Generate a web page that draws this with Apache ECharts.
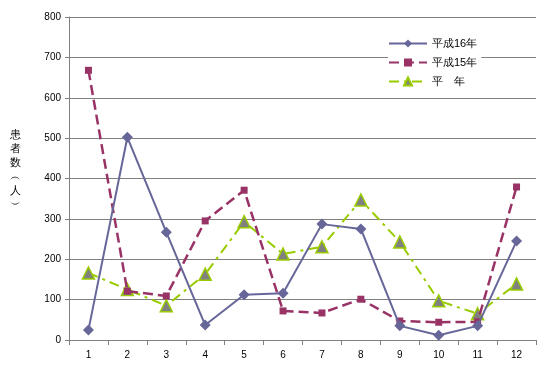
<!DOCTYPE html>
<html>
<head>
<meta charset="utf-8">
<script src="https://cdn.jsdelivr.net/npm/echarts@6/dist/echarts.min.js"></script>
<style>
  html, body { margin: 0; padding: 0; background: #ffffff; }
  #chart { width: 551px; height: 378px; }
</style>
</head>
<body>
<div id="chart"></div>
<script>
// months
const months = ['1', '2', '3', '4', '5', '6', '7', '8', '9', '10', '11', '12'];

// patients per month
const h16 = [25, 502, 267, 37, 112, 116, 287, 275, 35, 12, 35, 245];
const h15 = [668, 121, 109, 295, 371, 72, 67, 101, 47, 44, 45, 379];
const normalYear = [166, 125, 85, 163, 293, 213, 231, 347, 243, 97, 65, 139];

const seriesNames = ['平成16年', '平成15年', '平　年'];

const chart = echarts.init(document.getElementById('chart'));
const labelFont = 'sans-serif';

const option = {
  backgroundColor: '#ffffff',
  animation: false,
  grid: { left: 69, right: 15, top: 17, bottom: 38 },
  legend: {
    orient: 'vertical',
    left: 388,
    top: 38,
    itemWidth: 38,
    itemHeight: 10,
    itemGap: 8,
    backgroundColor: '#ffffff',
    padding: [0, 4, 0, 0],
    textStyle: { fontSize: 11, color: '#000', fontFamily: labelFont },
    data: seriesNames
  },
  xAxis: {
    type: 'category',
    data: months,
    boundaryGap: true,
    axisLine: { lineStyle: { color: '#808080', width: 1 } },
    axisTick: { show: true, alignWithLabel: false, length: 5, lineStyle: { color: '#808080' } },
    axisLabel: { fontSize: 10, color: '#000', margin: 10, fontFamily: labelFont },
    splitLine: { show: false }
  },
  yAxis: {
    type: 'value',
    min: 0,
    max: 800,
    interval: 100,
    axisLine: { show: true, lineStyle: { color: '#808080', width: 1 } },
    axisTick: { show: true, length: 4, lineStyle: { color: '#808080' } },
    axisLabel: { fontSize: 10, color: '#000', margin: 8, fontFamily: labelFont },
    splitLine: { show: true, lineStyle: { color: '#808080', width: 1 } }
  },
  graphic: [
    {
      type: 'text',
      left: 10,
      top: 128,
      style: {
        text: '患\n者\n数\n︵\n人\n︶',
        fontSize: 11,
        lineHeight: 14,
        fill: '#000',
        fontFamily: labelFont
      }
    }
  ],
  series: [
    {
      name: seriesNames[0],
      type: 'line',
      data: h16,
      symbol: 'diamond',
      symbolSize: 11,
      lineStyle: { color: '#666699', width: 2 },
      itemStyle: { color: '#666699' },
      z: 4
    },
    {
      name: seriesNames[1],
      type: 'line',
      data: h15,
      symbol: 'rect',
      symbolSize: 7,
      lineStyle: { color: '#993366', width: 2.5, type: [10, 5] },
      itemStyle: { color: '#993366' },
      z: 3
    },
    {
      name: seriesNames[2],
      type: 'line',
      data: normalYear,
      symbol: 'triangle',
      symbolSize: 12,
      lineStyle: { color: '#99cc00', width: 2, type: [10, 5, 3, 5] },
      itemStyle: { color: '#808080', borderColor: '#99cc00', borderWidth: 1.5 },
      z: 2
    }
  ]
};

chart.setOption(option);
</script>
</body>
</html>
